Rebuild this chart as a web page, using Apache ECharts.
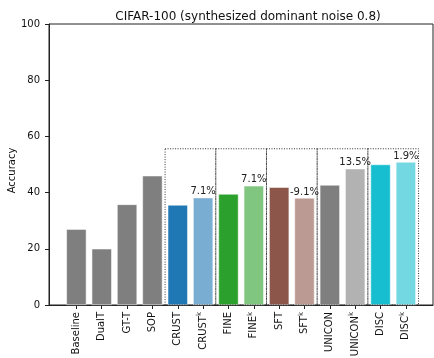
<!DOCTYPE html>
<html>
<head>
<meta charset="utf-8">
<script src="https://cdn.jsdelivr.net/npm/echarts@6/dist/echarts.min.js"></script>
<style>
  html, body { margin: 0; padding: 0; background: #fff; }
  #chart { width: 434px; height: 358px; }
</style>
</head>
<body>
<div id="chart"></div>
<script>
// Method names; a trailing "k" means the variant gets a superscript k.
const methods = ['Baseline', 'DualT', 'GT-T', 'SOP', 'CRUST', 'CRUST', 'FINE', 'FINE', 'SFT', 'SFT', 'UNICON', 'UNICON', 'DISC', 'DISC'];
const superK = [false, false, false, false, false, true, false, true, false, true, false, true, false, true];
const accuracy = [27.0, 20.0, 35.8, 46.0, 35.6, 38.2, 39.5, 42.4, 41.9, 38.1, 42.7, 48.5, 50.0, 50.9];
const gainLabels = ['', '', '', '', '', '7.1%', '', '7.1%', '', '-9.1%', '', '13.5%', '', '1.9%'];
const barColors = ['#7f7f7f', '#7f7f7f', '#7f7f7f', '#7f7f7f',
  '#1f77b4', '#79add2', '#2ca02c', '#80c680', '#8c564b', '#ba9a93',
  '#7f7f7f', '#b2b2b2', '#17becf', '#74d8e2'];
// Pairs of (base, variant) indices framed by a dotted box.
const pairGroups = [[4, 5], [6, 7], [8, 9], [10, 11], [12, 13]];
const boxTop = 55.6;
const yTicks = [0, 20, 40, 60, 80, 100];

const FONT = 'DejaVu Sans';
const chart = echarts.init(document.getElementById('chart'), null, { renderer: 'canvas' });

const barData = accuracy.map((v, i) => ({
  value: [i, v],
  itemStyle: { color: barColors[i] },
  label: {
    show: gainLabels[i] !== '',
    formatter: gainLabels[i]
  }
}));

const boxData = pairGroups.map(g => [g[0] - 0.5, g[g.length - 1] + 0.5, boxTop]);

chart.setOption({
  animation: false,
  title: {
    text: 'CIFAR-100 (synthesized dominant noise 0.8)',
    left: 243,
    top: 6,
    textAlign: 'center',
    textStyle: { fontFamily: FONT, fontSize: 12, fontWeight: 'normal', color: '#111' }
  },
  grid: {
    left: 49, right: 1, top: 24, bottom: 53,
    outerBoundsMode: 'none',
    containLabel: false,
    show: true, borderColor: '#222', borderWidth: 1, backgroundColor: 'transparent'
  },
  xAxis: {
    type: 'value',
    min: -1.08,
    max: 14.07,
    splitLine: { show: false },
    axisLine: { onZero: false, lineStyle: { color: '#222', width: 1 } },
    axisTick: {
      show: true, length: 4, inside: false,
      customValues: methods.map((_, i) => i),
      lineStyle: { color: '#222' }
    },
    axisLabel: {
      customValues: methods.map((_, i) => i),
      rotate: 90,
      margin: 7,
      fontFamily: FONT,
      fontSize: 10,
      color: '#111',
      formatter: v => superK[v] ? methods[v] + '{k|k}' : methods[v],
      rich: {
        k: { fontFamily: FONT, fontSize: 7, color: '#111', verticalAlign: 'top', lineHeight: 14 }
      }
    }
  },
  yAxis: {
    type: 'value',
    min: 0,
    max: 100,
    interval: 20,
    name: 'Accuracy',
    nameLocation: 'middle',
    nameGap: 32,
    nameMoveOverlap: false,
    nameTextStyle: { fontFamily: FONT, fontSize: 10, color: '#111', padding: [0, 12, 0, 0] },
    splitLine: { show: false },
    axisLine: { show: true, onZero: false, lineStyle: { color: '#222', width: 1 } },
    axisTick: { show: true, length: 4, lineStyle: { color: '#222' } },
    axisLabel: {
      fontFamily: FONT, fontSize: 10, color: '#111', margin: 9,
      customValues: yTicks
    }
  },
  series: [
    {
      type: 'bar',
      data: barData,
      barWidth: 20,
      itemStyle: { borderColor: '#fff', borderWidth: 0.5 },
      label: {
        position: 'top',
        distance: 1,
        fontFamily: FONT,
        fontSize: 10,
        color: '#222'
      },
      z: 2
    },
    {
      type: 'custom',
      data: boxData,
      z: 3,
      renderItem: (params, api) => {
        const p0 = api.coord([api.value(0), 0]);
        const p1 = api.coord([api.value(1), api.value(2)]);
        return {
          type: 'rect',
          shape: { x: p0[0], y: p1[1], width: p1[0] - p0[0], height: p0[1] - p1[1] },
          style: { fill: 'none', stroke: '#333', lineWidth: 1, lineDash: [1, 1.5] }
        };
      }
    }
  ]
});
</script>
</body>
</html>
